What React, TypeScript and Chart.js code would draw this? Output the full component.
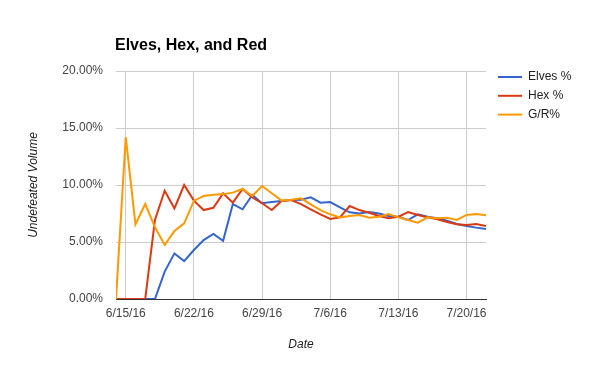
import React, { useEffect, useRef } from "react";
import { Chart, registerables } from "chart.js";

Chart.register(...registerables);

const chartTitle = "Elves, Hex, and Red";
const seriesNames = ["Elves %", "Hex %", "G/R%"];
const seriesColors = ["#3366cc", "#dc3912", "#ff9900"];

// day index 0 = 6/14/16 ... 38 = 7/22/16
const tickDays = [1, 8, 15, 22, 29, 36];
const tickLabels = ["6/15/16", "6/22/16", "6/29/16", "7/6/16", "7/13/16", "7/20/16"];

const elves = [
  0, 0, 0, 0, 0, 2.4, 4.0, 3.33, 4.3, 5.17, 5.7, 5.1, 8.33, 7.87, 9.12, 8.4, 8.5, 8.6, 8.68, 8.7,
  8.92, 8.45, 8.5, 8.04, 7.6, 7.5, 7.63, 7.5, 7.28, 7.22, 6.93, 7.43, 7.22, 7.08, 6.87, 6.58, 6.4,
  6.26, 6.14,
];
const hex = [
  0, 0, 0, 0, 6.93, 9.5, 7.95, 10.0, 8.63, 7.8, 8.0, 9.27, 8.45, 9.65, 8.9, 8.4, 7.8, 8.6, 8.68,
  8.33, 7.87, 7.43, 7.02, 7.16, 8.16, 7.8, 7.57, 7.28, 7.08, 7.22, 7.63, 7.37, 7.16, 6.99, 6.75,
  6.55, 6.49, 6.58, 6.4,
];
const gr = [
  0, 14.2, 6.55, 8.33, 6.3, 4.74, 5.96, 6.64, 8.6, 9.04, 9.15, 9.2, 9.33, 9.65, 9.04, 9.91, 9.27,
  8.63, 8.7, 8.83, 8.3, 7.8, 7.43, 7.16, 7.28, 7.37, 7.13, 7.22, 7.46, 7.16, 6.93, 6.7, 7.16, 7.08,
  7.13, 6.93, 7.37, 7.46, 7.34,
];

const FONT = "'Liberation Sans', Arial, sans-serif";

const toPoints = (arr: number[]) => arr.map((v, i) => ({ x: i, y: v }));

const decorPlugin = {
  id: "decor",
  afterDraw(chart: any) {
    const ctx = chart.ctx;
    const area = chart.chartArea;
    ctx.save();
    // title
    ctx.fillStyle = "#000";
    ctx.font = `bold 16px ${FONT}`;
    ctx.textAlign = "left";
    ctx.textBaseline = "alphabetic";
    ctx.fillText(chartTitle, area.left - 1, 49.5);
    // legend
    ctx.font = `12px ${FONT}`;
    ctx.textBaseline = "middle";
    seriesNames.forEach((name, i) => {
      const y = 77 + i * 18.8;
      ctx.strokeStyle = seriesColors[i];
      ctx.lineWidth = 2;
      ctx.beginPath();
      ctx.moveTo(area.right + 12, y);
      ctx.lineTo(area.right + 36, y);
      ctx.stroke();
      ctx.fillStyle = "#222";
      ctx.fillText(name, area.right + 42, y);
    });
    ctx.restore();
  },
};

export default function App() {
  const ref = useRef<HTMLCanvasElement | null>(null);
  useEffect(() => {
    if (!ref.current) return;
    const datasets = [elves, hex, gr].map((arr, i) => ({
      label: seriesNames[i],
      data: toPoints(arr),
      borderColor: seriesColors[i],
      backgroundColor: seriesColors[i],
      borderWidth: 2,
      pointRadius: 0,
      tension: 0,
      order: 2 - i,
    }));
    const chart = new Chart(ref.current, {
      type: "line",
      data: { datasets },
      plugins: [decorPlugin],
      options: {
        animation: false,
        responsive: false,
        layout: { padding: { top: 71, right: 114, left: 0, bottom: 0 } },
        plugins: { legend: { display: false }, tooltip: { enabled: false }, title: { display: false } },
        scales: {
          x: {
            type: "linear",
            min: 0,
            max: 38,
            afterFit: (s: any) => {
              s.height = 72;
            },
            afterBuildTicks: (s: any) => {
              s.ticks = tickDays.map((v) => ({ value: v }));
            },
            ticks: {
              autoSkip: false,
              maxRotation: 0,
              padding: 7,
              color: "#444",
              font: { family: FONT, size: 12 },
              callback: (v: any) => {
                const idx = tickDays.indexOf(Number(v));
                return idx >= 0 ? tickLabels[idx] : "";
              },
            },
            grid: { color: "#cccccc", drawTicks: false, lineWidth: 1 },
            border: { display: true, color: "#333333", width: 1 },
            title: {
              display: true,
              text: "Date",
              color: "#222",
              font: { family: FONT, size: 12, style: "italic" },
              padding: 19,
            },
          },
          y: {
            min: 0,
            max: 20,
            afterFit: (s: any) => {
              s.width = 116;
            },
            ticks: {
              stepSize: 5,
              padding: 13,
              color: "#444",
              font: { family: FONT, size: 12 },
              callback: (v: any) => Number(v).toFixed(2) + "%",
            },
            grid: { color: "#cccccc", drawTicks: false, lineWidth: 1 },
            border: { display: false },
            title: {
              display: true,
              text: "Undefeated Volume",
              color: "#222",
              font: { family: FONT, size: 12, style: "italic" },
              padding: 26,
            },
          },
        },
      } as any,
    });
    return () => chart.destroy();
  }, []);
  return (
    <div style={{ position: "absolute", left: 0, top: 0, width: 600, height: 371, background: "#fff" }}>
      <canvas ref={ref} width={600} height={371} />
    </div>
  );
}
